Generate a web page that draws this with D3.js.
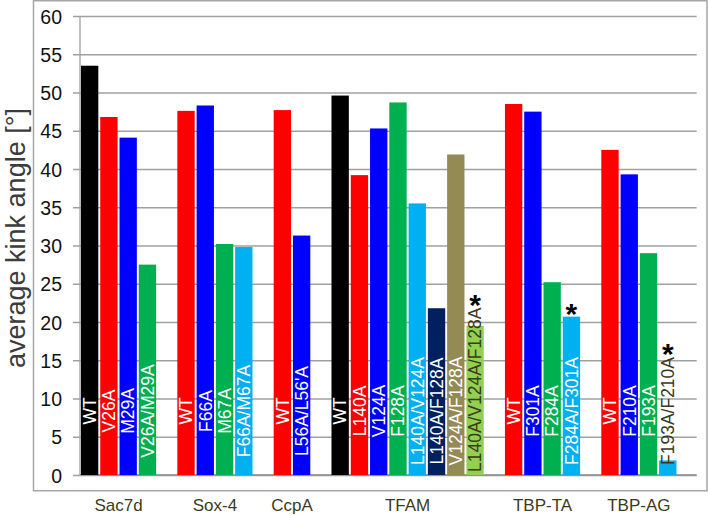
<!DOCTYPE html>
<html>
<head>
<meta charset="utf-8">
<title>Average kink angle</title>
<script src="https://cdn.jsdelivr.net/npm/d3@7"></script>
<style>
  body { margin: 0; background: #fff; }
  svg text { font-family: "Liberation Sans", Arial, sans-serif; }
</style>
</head>
<body>
<svg id="chart" width="708" height="515"></svg>
<script>
  // data
  var groups = ["Sac7d", "Sox-4", "CcpA", "TFAM", "TBP-TA", "TBP-AG"];
  var mutants = [
    ["WT", "V26A", "M29A", "V26A/M29A"],
    ["WT", "F66A", "M67A", "F66A/M67A"],
    ["WT", "L56A/L56'A"],
    ["WT", "L140A", "V124A", "F128A", "L140A/V124A", "L140A/F128A", "V124A/F128A", "L140A/V124A/F128A"],
    ["WT", "F301A", "F284A", "F284A/F301A"],
    ["WT", "F210A", "F193A", "F193A/F210A"]
  ];
  var angles = [
    [53.5, 46.8, 44.1, 27.5],
    [47.6, 48.3, 30.2, 29.8],
    [47.7, 31.3],
    [49.6, 39.2, 45.3, 48.7, 35.5, 21.8, 41.9, 19.5],
    [48.5, 47.5, 25.2, 20.7],
    [42.5, 39.3, 29.0, 1.9]
  ];
  var barColors = [
    ["#000000", "#ff0000", "#0000ff", "#00b050"],
    ["#ff0000", "#0000ff", "#00b050", "#00b0f0"],
    ["#ff0000", "#0000ff"],
    ["#000000", "#ff0000", "#0000ff", "#00b050", "#00b0f0", "#002060", "#948a54", "#92d050"],
    ["#ff0000", "#0000ff", "#00b050", "#00b0f0"],
    ["#ff0000", "#0000ff", "#00b050", "#00b0f0"]
  ];
  var starred = ["L140A/V124A/F128A", "F284A/F301A", "F193A/F210A"];
  var yTicks = d3.range(0, 61, 5);

  // one slot per bar, plus one empty slot after each group
  var bars = [];
  var slot = 0;
  var groupSpans = [];
  groups.forEach(function(g, gi) {
    var first = slot;
    mutants[gi].forEach(function(m, mi) {
      bars.push({group: g, name: m, value: angles[gi][mi], color: barColors[gi][mi], slot: slot,
                 star: starred.indexOf(m) != -1});
      slot++;
    });
    groupSpans.push({name: g, first: first, last: slot - 1});
    slot++;
  });

  var svg = d3.select("#chart");
  var plotLeft = 80, plotRight = 696.7, plotTop = 16, plotBottom = 475;

  var x = d3.scaleBand()
      .domain(d3.range(slot))
      .range([plotLeft, plotRight])
      .paddingInner(0.1)
      .paddingOuter(0.05);
  var y = d3.scaleLinear().domain([0, 60]).range([plotBottom, plotTop]);

  // outer frame
  svg.append("rect")
      .attr("x", 33.5).attr("y", 0.75)
      .attr("width", 673.5).attr("height", 490)
      .attr("fill", "none")
      .attr("stroke", "#a6a6a6")
      .attr("stroke-width", 1.5);

  // gridlines + tick labels
  var yAxis = d3.axisLeft(y)
      .tickValues(yTicks)
      .tickSize(-(plotRight - plotLeft))
      .tickPadding(18)
      .tickSizeOuter(0);
  var ga = svg.append("g")
      .attr("transform", "translate(" + plotLeft + ",0)")
      .call(yAxis);
  ga.select(".domain").remove();
  ga.selectAll(".tick line")
      .attr("x1", -7)
      .attr("stroke", "#a0a0a0")
      .attr("stroke-width", 1.3);
  ga.selectAll(".tick text")
      .attr("font-size", 19.5)
      .attr("fill", "#111")
      .attr("dy", "0.36em")
      .attr("font-family", "Liberation Sans, Arial, sans-serif");

  svg.append("line")
      .attr("x1", plotLeft).attr("x2", plotLeft)
      .attr("y1", plotTop).attr("y2", plotBottom)
      .attr("stroke", "#a0a0a0").attr("stroke-width", 1.3);
  svg.append("line")
      .attr("x1", plotLeft).attr("x2", plotRight)
      .attr("y1", plotBottom).attr("y2", plotBottom)
      .attr("stroke", "#8c8c8c").attr("stroke-width", 1.5);

  // bars
  svg.append("g").selectAll("rect")
      .data(bars)
    .enter().append("rect")
      .attr("x", function(d) { return x(d.slot); })
      .attr("y", function(d) { return y(d.value); })
      .attr("width", x.bandwidth())
      .attr("height", function(d) { return y(0) - y(d.value); })
      .attr("fill", function(d) { return d.color; });

  // rotated bar labels, centred low in the bar, pushed up if too long
  var labelCentre = 411, labelFloor = 472;
  var lg = svg.append("g");
  bars.forEach(function(d) {
    var cx = x(d.slot) + x.bandwidth() / 2;
    var t = lg.append("text")
        .attr("font-size", 17.5)
        .attr("text-anchor", "middle")
        .attr("dy", "0.36em")
        .text(d.name);
    var len = t.node().getComputedTextLength();
    var cy = Math.min(labelCentre, labelFloor - len / 2);
    var textTop = cy - len / 2;
    var fits = textTop > y(d.value);
    t.attr("transform", "translate(" + cx + "," + cy + ") rotate(-90)")
        .attr("fill", fits ? "#ffffff" : "#3a3a1c");
    if (d.star) {
      var starY = Math.min(textTop, y(d.value)) - 10;
      lg.append("text")
          .attr("x", cx)
          .attr("y", starY + 17)
          .attr("text-anchor", "middle")
          .attr("font-size", 30)
          .attr("font-weight", "bold")
          .attr("fill", "#000")
          .text("*");
    }
  });

  // group labels
  svg.append("g").selectAll("text")
      .data(groupSpans)
    .enter().append("text")
      .attr("x", function(d) { return (x(d.first) + x(d.last) + x.bandwidth()) / 2; })
      .attr("y", 511)
      .attr("text-anchor", "middle")
      .attr("font-size", 17)
      .attr("fill", "#3b3b1c")
      .text(function(d) { return d.name; });

  // y title
  svg.append("text")
      .attr("transform", "translate(25,238) rotate(-90)")
      .attr("text-anchor", "middle")
      .attr("font-size", 27)
      .attr("fill", "#3c3c3c")
      .text("average kink angle [°]");
</script>
</body>
</html>
